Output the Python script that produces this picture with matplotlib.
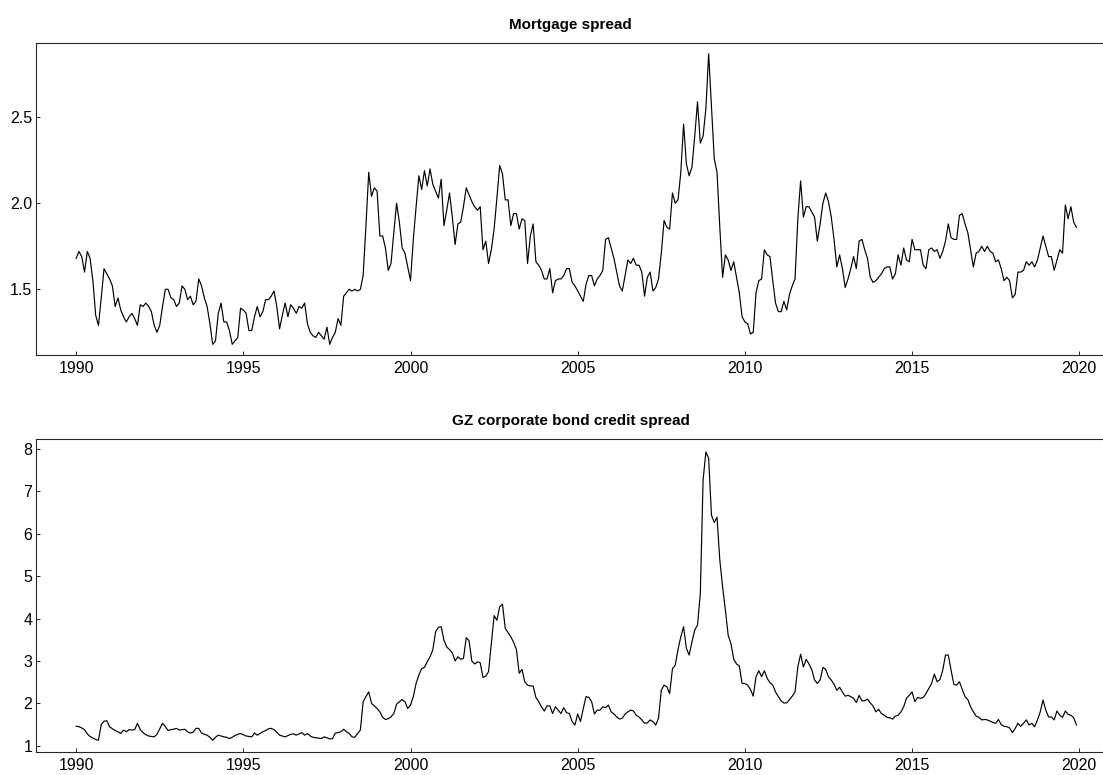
import numpy as np
import matplotlib
matplotlib.use("Agg")
import matplotlib.pyplot as plt

plt.rcParams['font.family'] = ['Liberation Sans', 'DejaVu Sans']

start_year = 1990
years_ticks = [1990, 1995, 2000, 2005, 2010, 2015, 2020]

# Monthly values, Jan 1990 - Dec 2019 (one row per year)
mortgage_spread = [
    1.68, 1.72, 1.69, 1.60, 1.72, 1.68, 1.55, 1.35, 1.29, 1.45, 1.62, 1.59,
    1.56, 1.52, 1.40, 1.45, 1.38, 1.34, 1.31, 1.34, 1.36, 1.33, 1.29, 1.41,
    1.40, 1.42, 1.40, 1.37, 1.29, 1.25, 1.29, 1.40, 1.50, 1.50, 1.45, 1.44,
    1.40, 1.42, 1.52, 1.50, 1.44, 1.46, 1.41, 1.43, 1.56, 1.52, 1.45, 1.40,
    1.30, 1.18, 1.20, 1.36, 1.42, 1.31, 1.31, 1.26, 1.18, 1.20, 1.22, 1.39,
    1.38, 1.36, 1.26, 1.26, 1.34, 1.40, 1.34, 1.37, 1.44, 1.44, 1.46, 1.49,
    1.40, 1.27, 1.35, 1.42, 1.34, 1.41, 1.39, 1.36, 1.40, 1.39, 1.42, 1.30,
    1.25, 1.23, 1.22, 1.25, 1.23, 1.21, 1.28, 1.18, 1.22, 1.25, 1.33, 1.29,
    1.46, 1.48, 1.50, 1.49, 1.50, 1.49, 1.50, 1.58, 1.87, 2.18, 2.04, 2.09,
    2.07, 1.81, 1.81, 1.74, 1.61, 1.65, 1.83, 2.00, 1.89, 1.74, 1.71, 1.63,
    1.55, 1.79, 1.98, 2.16, 2.08, 2.19, 2.10, 2.20, 2.11, 2.07, 2.03, 2.14,
    1.87, 1.96, 2.06, 1.92, 1.76, 1.88, 1.89, 1.98, 2.09, 2.05, 2.01, 1.98,
    1.96, 1.98, 1.73, 1.78, 1.65, 1.73, 1.85, 2.03, 2.22, 2.17, 2.02, 2.02,
    1.87, 1.94, 1.94, 1.85, 1.91, 1.90, 1.65, 1.81, 1.88, 1.66, 1.64, 1.61,
    1.56, 1.56, 1.62, 1.48, 1.55, 1.56, 1.56, 1.58, 1.62, 1.62, 1.54, 1.52,
    1.49, 1.46, 1.43, 1.53, 1.58, 1.58, 1.52, 1.56, 1.58, 1.61, 1.79, 1.80,
    1.74, 1.68, 1.60, 1.52, 1.49, 1.58, 1.67, 1.65, 1.68, 1.64, 1.64, 1.60,
    1.46, 1.57, 1.60, 1.49, 1.51, 1.56, 1.71, 1.90, 1.86, 1.85, 2.06, 2.00,
    2.02, 2.18, 2.46, 2.23, 2.16, 2.21, 2.39, 2.59, 2.35, 2.39, 2.55, 2.87,
    2.56, 2.26, 2.18, 1.86, 1.57, 1.70, 1.67, 1.61, 1.66, 1.57, 1.48, 1.34,
    1.31, 1.30, 1.24, 1.25, 1.48, 1.55, 1.56, 1.73, 1.70, 1.69, 1.55, 1.42,
    1.37, 1.37, 1.43, 1.38, 1.47, 1.52, 1.56, 1.91, 2.13, 1.92, 1.98, 1.98,
    1.95, 1.92, 1.78, 1.88, 2.00, 2.06, 2.01, 1.92, 1.79, 1.63, 1.70, 1.62,
    1.51, 1.56, 1.62, 1.69, 1.62, 1.78, 1.79, 1.73, 1.68, 1.57, 1.54, 1.55,
    1.57, 1.59, 1.62, 1.63, 1.63, 1.56, 1.59, 1.70, 1.64, 1.74, 1.67, 1.66,
    1.79, 1.73, 1.73, 1.73, 1.64, 1.62, 1.73, 1.74, 1.72, 1.73, 1.68, 1.72,
    1.78, 1.88, 1.80, 1.79, 1.79, 1.93, 1.94, 1.88, 1.83, 1.73, 1.63, 1.71,
    1.72, 1.75, 1.72, 1.75, 1.72, 1.71, 1.66, 1.67, 1.62, 1.55, 1.57, 1.55,
    1.45, 1.47, 1.60, 1.60, 1.61, 1.66, 1.64, 1.66, 1.63, 1.67, 1.74, 1.81,
    1.75, 1.69, 1.69, 1.61, 1.67, 1.73, 1.71, 1.99, 1.91, 1.98, 1.89, 1.86,
]

gz_spread = [
    1.46, 1.45, 1.42, 1.38, 1.28, 1.22, 1.18, 1.15, 1.13, 1.50, 1.58, 1.59,
    1.45, 1.40, 1.36, 1.33, 1.29, 1.37, 1.33, 1.38, 1.37, 1.38, 1.53, 1.38,
    1.31, 1.26, 1.23, 1.22, 1.21, 1.27, 1.40, 1.53, 1.45, 1.36, 1.38, 1.39,
    1.41, 1.37, 1.38, 1.39, 1.33, 1.30, 1.32, 1.41, 1.41, 1.30, 1.27, 1.25,
    1.20, 1.13, 1.20, 1.25, 1.23, 1.21, 1.20, 1.17, 1.20, 1.24, 1.27, 1.29,
    1.26, 1.23, 1.22, 1.21, 1.30, 1.25, 1.29, 1.33, 1.36, 1.40, 1.41, 1.38,
    1.32, 1.25, 1.23, 1.21, 1.24, 1.27, 1.28, 1.25, 1.28, 1.31, 1.25, 1.29,
    1.23, 1.20, 1.19, 1.18, 1.17, 1.21, 1.19, 1.16, 1.17, 1.30, 1.31, 1.33,
    1.39, 1.33, 1.29, 1.21, 1.20, 1.29, 1.37, 2.04, 2.16, 2.27, 2.00, 1.94,
    1.88, 1.80, 1.67, 1.62, 1.64, 1.68, 1.76, 1.98, 2.04, 2.09, 2.04, 1.88,
    1.96, 2.16, 2.47, 2.67, 2.82, 2.85, 2.98, 3.10, 3.26, 3.69, 3.79, 3.81,
    3.49, 3.33, 3.27, 3.19, 3.00, 3.10, 3.04, 3.06, 3.55, 3.48, 3.00, 2.93,
    2.98, 2.96, 2.61, 2.64, 2.75, 3.41, 4.07, 3.96, 4.28, 4.34, 3.77, 3.67,
    3.57, 3.44, 3.27, 2.71, 2.80, 2.51, 2.43, 2.41, 2.41, 2.14, 2.04, 1.92,
    1.82, 1.94, 1.94, 1.76, 1.92, 1.84, 1.76, 1.90, 1.78, 1.76, 1.57, 1.49,
    1.75, 1.57, 1.88, 2.16, 2.14, 2.04, 1.75, 1.84, 1.84, 1.92, 1.90, 1.96,
    1.80, 1.75, 1.68, 1.63, 1.65, 1.75, 1.80, 1.84, 1.82, 1.72, 1.68, 1.61,
    1.53, 1.54, 1.61, 1.57, 1.49, 1.65, 2.31, 2.43, 2.39, 2.23, 2.82, 2.90,
    3.27, 3.57, 3.81, 3.30, 3.14, 3.45, 3.73, 3.85, 4.59, 7.27, 7.93, 7.78,
    6.44, 6.27, 6.39, 5.38, 4.75, 4.20, 3.61, 3.41, 3.04, 2.93, 2.88, 2.47,
    2.47, 2.43, 2.33, 2.17, 2.63, 2.77, 2.63, 2.77, 2.59, 2.49, 2.43, 2.27,
    2.16, 2.06, 2.01, 2.01, 2.09, 2.17, 2.27, 2.86, 3.16, 2.86, 3.04, 2.93,
    2.80, 2.55, 2.47, 2.55, 2.85, 2.80, 2.63, 2.55, 2.45, 2.31, 2.38, 2.27,
    2.17, 2.19, 2.16, 2.12, 2.02, 2.19, 2.06, 2.06, 2.10, 2.01, 1.94, 1.80,
    1.86, 1.76, 1.72, 1.67, 1.66, 1.63, 1.70, 1.72, 1.80, 1.92, 2.12, 2.19,
    2.27, 2.04, 2.14, 2.12, 2.14, 2.23, 2.35, 2.47, 2.69, 2.51, 2.56, 2.78,
    3.14, 3.14, 2.78, 2.45, 2.43, 2.51, 2.33, 2.16, 2.09, 1.92, 1.80, 1.70,
    1.67, 1.61, 1.62, 1.61, 1.58, 1.55, 1.53, 1.62, 1.50, 1.46, 1.45, 1.42,
    1.31, 1.41, 1.53, 1.46, 1.53, 1.61, 1.49, 1.53, 1.45, 1.61, 1.80, 2.08,
    1.84, 1.68, 1.68, 1.61, 1.82, 1.72, 1.67, 1.82, 1.74, 1.72, 1.66, 1.49,
]

titles = ["Mortgage spread", "GZ corporate bond credit spread"]
yticks_top = [1.5, 2.0, 2.5]
yticklabels_top = ["1.5", "2.0", "2.5"]
yticks_bottom = [1, 2, 3, 4, 5, 6, 7, 8]

dates = start_year + np.arange(len(mortgage_spread)) / 12.0

W, H = 1103, 775
fig = plt.figure(figsize=(W / 100, H / 100), dpi=100)

def px_axes(left, top, right, bottom):
    return fig.add_axes([left / W, 1 - bottom / H, (right - left) / W, (bottom - top) / H])

ax1 = px_axes(35.7, 43.3, 1106, 355.0)
ax2 = px_axes(35.7, 439.3, 1106, 751.7)

xlim = (1988.79, 2020.80)

for ax, data, title in [(ax1, mortgage_spread, titles[0]), (ax2, gz_spread, titles[1])]:
    ax.plot(dates, data, color='black', lw=0.85)
    ax.set_xlim(*xlim)
    ax.set_xticks(years_ticks)
    ax.set_xticklabels([str(y) for y in years_ticks])
    ax.set_title(title, fontsize=11, fontweight='bold', pad=10)
    ax.tick_params(direction='in', length=2.8, width=0.7, labelsize=11.5,
                   colors='#262626', labelcolor='black', top=False, right=False)
    ax.tick_params(axis='x', pad=4.2)
    ax.tick_params(axis='y', pad=2.5)
    for s in ['left', 'top', 'bottom']:
        ax.spines[s].set_linewidth(0.8)
        ax.spines[s].set_color('#262626')
    ax.spines['right'].set_visible(False)

ax1.set_ylim(1.118, 2.930)
ax1.set_yticks(yticks_top)
ax1.set_yticklabels(yticklabels_top)

ax2.set_ylim(0.86, 8.23)
ax2.set_yticks(yticks_bottom)
ax2.set_yticklabels([str(v) for v in yticks_bottom])

fig.savefig("out.png", dpi=100)
